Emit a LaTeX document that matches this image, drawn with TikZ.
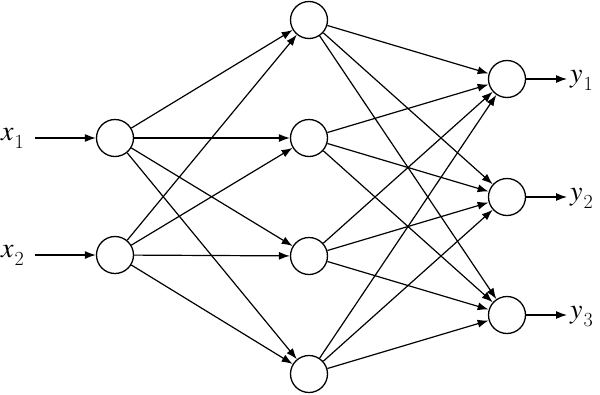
\documentclass[tikz,border=0pt]{standalone}
\usepackage{mathptmx}
\usetikzlibrary{arrows.meta}
\newcommand{\nnlab}[2]{$#1$\kern1pt\raisebox{-8pt}{\fontsize{20}{20}\selectfont #2}}
\begin{document}
\begin{tikzpicture}[x=1pt,y=-1pt,
  neuron/.style={circle,draw,line width=1.3pt,minimum size=37pt,inner sep=0pt},
  lbl/.style={inner sep=0pt,font=\fontsize{28}{32}\selectfont},
  conn/.style={line width=1.2pt,-{Latex[length=11pt,width=8pt]}}]
\useasboundingbox (0,0) rectangle (600,394);
\node[neuron] (i1) at (115,138) {};
\node[neuron] (i2) at (115,255) {};
\node[neuron] (h1) at (309,20) {};
\node[neuron] (h2) at (309,138) {};
\node[neuron] (h3) at (309,256) {};
\node[neuron] (h4) at (309,374) {};
\node[neuron] (o1) at (507,79) {};
\node[neuron] (o2) at (507,197) {};
\node[neuron] (o3) at (507,315) {};
\node[lbl,anchor=base west] (x1) at (1,140) {\nnlab{x}{1}};
\node[lbl,anchor=base west] (x2) at (1,257) {\nnlab{x}{2}};
\node[lbl,anchor=base west] (y1) at (570,82) {\nnlab{y}{1}};
\node[lbl,anchor=base west] (y2) at (570,200) {\nnlab{y}{2}};
\node[lbl,anchor=base west] (y3) at (570,318) {\nnlab{y}{3}};
\coordinate (x1e) at (35,138);
\coordinate (x2e) at (35,255);
\coordinate (y1e) at (567,79);
\coordinate (y2e) at (567,197);
\coordinate (y3e) at (567,315);
\draw[conn] (x1e) -- (i1);
\draw[conn] (x2e) -- (i2);
\foreach \i in {i1,i2}
  \foreach \h in {h1,h2,h3,h4}
    \draw[conn] (\i) -- (\h);
\foreach \h in {h1,h2,h3,h4}
  \foreach \o in {o1,o2,o3}
    \draw[conn] (\h) -- (\o);
\draw[conn] (o1) -- (y1e);
\draw[conn] (o2) -- (y2e);
\draw[conn] (o3) -- (y3e);
\end{tikzpicture}
\end{document}
